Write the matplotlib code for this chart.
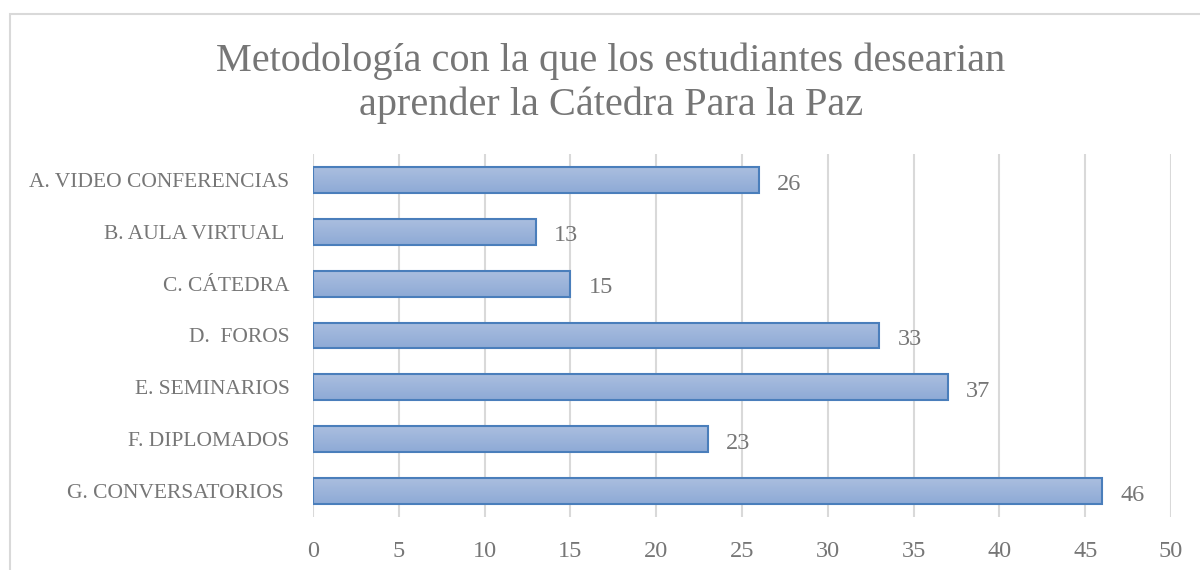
import matplotlib
matplotlib.use("Agg")
import matplotlib.pyplot as plt
import numpy as np
from matplotlib.patches import Rectangle
from matplotlib.colors import LinearSegmentedColormap

categories = ["A. VIDEO CONFERENCIAS", "B. AULA VIRTUAL ", "C. CÁTEDRA", "D.  FOROS",
              "E. SEMINARIOS", "F. DIPLOMADOS", "G. CONVERSATORIOS "]
values = [26, 13, 15, 33, 37, 23, 46]
xticks = [0, 5, 10, 15, 20, 25, 30, 35, 40, 45, 50]
title = "Metodología con la que los estudiantes desearian\naprender la Cátedra Para la Paz"

FONT = ["Liberation Serif", "DejaVu Serif"]
GRAY = "#767676"

fig = plt.figure(figsize=(12, 5.7), dpi=100)
fig.patches.append(Rectangle((10/1200, -0.1), 1.2, (570-14)/570 + 0.1, transform=fig.transFigure,
                             fill=False, edgecolor="#d9d9d9", linewidth=1.5))
ax = fig.add_axes([313/1200, 1-517/570, (1171-313)/1200, (517-154)/570])

y = np.arange(len(categories))
bars = ax.barh(y, values, height=0.5, color="none", edgecolor="#4a7ebb", linewidth=1.5, zorder=3)
grad = np.linspace(0, 1, 100).reshape(-1, 1)
cmap = LinearSegmentedColormap.from_list("g", ["#aabedf", "#8eaad6"])
for b in bars:
    x0, y0 = b.get_x(), b.get_y()
    w, h = b.get_width(), b.get_height()
    im = ax.imshow(grad, cmap=cmap, extent=[x0, x0 + w, y0 + h, y0], aspect="auto", zorder=2,
                   interpolation="bilinear")
    im.set_clip_path(b)

for yi, v in zip(y, values):
    ax.annotate(str(v), (v, yi), xytext=(13, -3), textcoords="offset points", va="center", ha="left",
                fontsize=17.5, color=GRAY, family=FONT)

ax.set_xlim(0, 50)
ax.set_ylim(len(categories) - 0.5, -0.5)
ax.set_xticks(xticks)
ax.set_yticks(y)
ax.set_yticklabels(categories)
ax.xaxis.grid(True, color="#d9d9d9", linewidth=1.5, zorder=0)
ax.set_axisbelow(True)
for s in ax.spines.values():
    s.set_visible(False)
ax.tick_params(axis="both", length=0, labelcolor=GRAY)
ax.tick_params(axis="x", pad=17, labelsize=17.5)
ax.tick_params(axis="y", pad=17, labelsize=15.5)
for lbl in ax.get_xticklabels() + ax.get_yticklabels():
    lbl.set_family(FONT)

fig.text(611/1200, 1-83/570, title, ha="center", va="center", fontsize=29, color=GRAY,
         family=FONT, linespacing=1.22)

fig.savefig("out.png", dpi=100)
